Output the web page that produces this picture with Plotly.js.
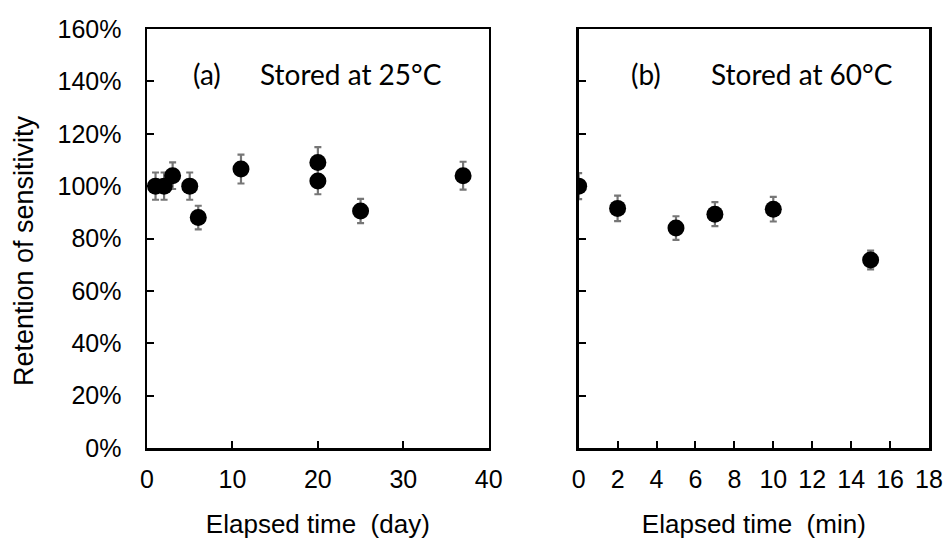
<!DOCTYPE html>
<html>
<head>
<meta charset="utf-8">
<script src="https://cdn.plot.ly/plotly-3.0.1.min.js"></script>
<style>html,body{margin:0;padding:0;background:#fff;}</style>
</head>
<body>
<div id="chart" style="width:947px;height:543px;"></div>
<script>
// Panel (a): stored at 25°C, elapsed time in days
const daysA = [1, 2, 3, 5, 6, 11, 20, 20, 25, 37];
const retentionA = [1.00, 1.00, 1.04, 1.00, 0.88, 1.065, 1.09, 1.02, 0.905, 1.04];
const errA = [0.052, 0.052, 0.051, 0.052, 0.045, 0.055, 0.059, 0.051, 0.046, 0.053];

// Panel (b): stored at 60°C, elapsed time in minutes
const minutesB = [0, 2, 5, 7, 10, 15];
const retentionB = [1.00, 0.915, 0.84, 0.893, 0.912, 0.718];
const errB = [0.05, 0.049, 0.045, 0.046, 0.047, 0.036];

const yTicks = [0, 0.2, 0.4, 0.6, 0.8, 1.0, 1.2, 1.4, 1.6];
const xTicksA = [0, 10, 20, 30, 40];
const xTicksB = [0, 2, 4, 6, 8, 10, 12, 14, 16, 18];

const ARIAL = 'Liberation Sans, Arial, sans-serif';
const tickFont = {family: ARIAL, size: 25, color: '#000'};
const titleFont = {family: ARIAL, size: 26, color: '#000'};
const noteFont = {family: 'Lato, sans-serif', size: 28, color: '#000'};
const errStyle = {type: 'data', visible: true, color: '#767676', thickness: 2.2, width: 3.5};

const traces = [
  {
    x: daysA, y: retentionA, type: 'scatter', mode: 'markers',
    marker: {color: '#000', size: 17},
    error_y: Object.assign({array: errA}, errStyle),
    xaxis: 'x', yaxis: 'y', showlegend: false
  },
  {
    x: minutesB, y: retentionB, type: 'scatter', mode: 'markers',
    marker: {color: '#000', size: 17},
    error_y: Object.assign({array: errB}, errStyle),
    xaxis: 'x2', yaxis: 'y2', showlegend: false
  }
];

const axisCommon = {
  showline: true, linecolor: '#000', linewidth: 2.5, mirror: true,
  ticks: 'inside', ticklen: 7, tickwidth: 2, tickcolor: '#000',
  showgrid: false, zeroline: false, tickfont: tickFont
};

const layout = {
  width: 947, height: 543,
  margin: {l: 147, r: 18, t: 29, b: 95},
  paper_bgcolor: '#fff', plot_bgcolor: '#fff',
  font: tickFont,
  xaxis: Object.assign({}, axisCommon, {
    domain: [0, 0.437], range: [0, 40], tickvals: xTicksA, anchor: 'y',
    ticklabelstandoff: 7,
    title: {text: 'Elapsed time  (day)', font: titleFont, standoff: 24}
  }),
  yaxis: Object.assign({}, axisCommon, {
    domain: [0, 1], range: [0, 1.6], tickvals: yTicks, tickformat: '.0%', anchor: 'x',
    ticklabelstandoff: 18
  }),
  xaxis2: Object.assign({}, axisCommon, {
    domain: [0.552, 1], range: [0, 18], tickvals: xTicksB, anchor: 'y2',
    ticklabelstandoff: 7,
    title: {text: 'Elapsed time  (min)', font: titleFont, standoff: 24}
  }),
  yaxis2: Object.assign({}, axisCommon, {
    domain: [0, 1], range: [0, 1.6], tickvals: yTicks, anchor: 'x2', showticklabels: false
  }),
  annotations: [
    {text: 'Retention of sensitivity', xref: 'paper', yref: 'paper', x: -0.158, y: 0.471,
     xanchor: 'center', yanchor: 'middle', textangle: -90, showarrow: false, font: {family: ARIAL, size: 27, color: '#000'}},
    {text: '(a)', xref: 'x', yref: 'y', x: 7, y: 1.428, showarrow: false, font: noteFont},
    {text: 'Stored at 25°C', xref: 'x', yref: 'y', x: 23.9, y: 1.428, showarrow: false, font: noteFont},
    {text: '(b)', xref: 'x2', yref: 'y2', x: 3.47, y: 1.428, showarrow: false, font: noteFont},
    {text: 'Stored at 60°C', xref: 'x2', yref: 'y2', x: 11.45, y: 1.428, showarrow: false, font: noteFont}
  ]
};

Plotly.newPlot('chart', traces, layout, {displayModeBar: false, staticPlot: true});
</script>
</body>
</html>
